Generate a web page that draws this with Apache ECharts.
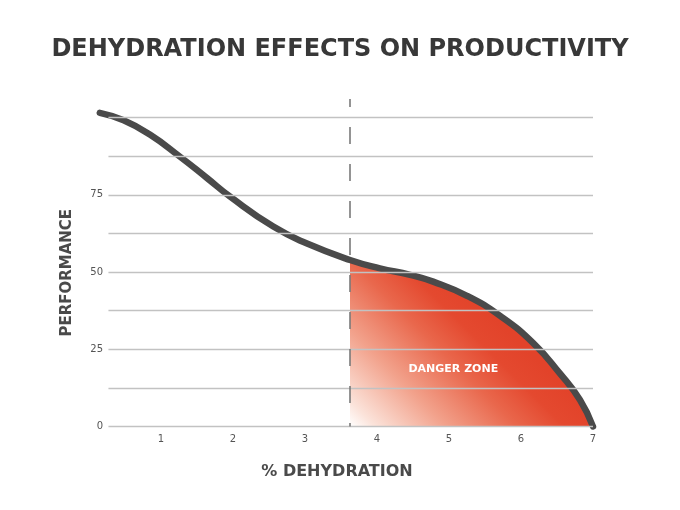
<!DOCTYPE html>
<html>
<head>
<meta charset="utf-8">
<script src="https://cdn.jsdelivr.net/npm/echarts@6/dist/echarts.min.js"></script>
<style>
  html, body { margin: 0; padding: 0; background: #fff; }
  #main { width: 680px; height: 510px; }
</style>
</head>
<body>
<div id="main"></div>
<script>
// curve: [% dehydration, performance]
var curveX = [0.15, 0.48, 0.85, 1.26, 1.64, 1.96, 2.56, 3.02, 3.625, 4.04, 4.46, 4.78, 5.25, 5.71, 6.17, 6.54, 6.82, 7.0];
var curveY = [101.5, 99.1, 94.4, 87.4, 80.4, 74.4, 64.7, 59.3, 53.9, 51.2, 49.1, 46.9, 42.3, 35.8, 27.0, 17.2, 8.6, 0];
var xTicks = [1, 2, 3, 4, 5, 6, 7];
var yTickLabels = [0, 25, 50, 75];
var gridLevels = [0, 12.5, 25, 37.5, 50, 62.5, 75, 87.5, 100];
var dangerStart = 3.625;
var yTop = 106;

(function(){
  var chartDom = document.getElementById('main');
  var myChart = echarts.init(chartDom);
  var option;

  var curve = curveX.map(function(x, i){ return [x, curveY[i]]; });
  // danger zone = part of the curve right of the dashed line
  var danger = curve.filter(function(p){ return p[0] >= dangerStart; });

  // horizontal rules, they start a little right of x=0
  var gridLines = gridLevels.map(function(v){
    return [{ coord: [0.27, v] }, { coord: [7, v] }];
  });

  var font = 'DejaVu Sans';

  option = {
    animation: false,
    title: {
      text: 'DEHYDRATION EFFECTS ON PRODUCTIVITY',
      left: 'center',
      top: 33,
      textStyle: {
        fontFamily: font,
        fontWeight: 'bold',
        fontSize: 24,
        color: '#383838'
      }
    },
    grid: {
      left: 89,
      right: 87,
      top: 99,
      bottom: 83.5
    },
    xAxis: {
      type: 'value',
      min: 0,
      max: 7,
      interval: 1,
      name: '% DEHYDRATION',
      nameLocation: 'middle',
      nameGap: 37,
      nameTextStyle: {
        fontFamily: font,
        fontWeight: 'bold',
        fontSize: 16,
        color: '#4a4a4a',
        padding: [0, 8, 0, 0]
      },
      axisLine: { show: false },
      axisTick: { show: false },
      splitLine: { show: false },
      axisLabel: {
        margin: 8,
        fontFamily: font,
        fontSize: 10,
        color: '#555',
        formatter: function(v){ return xTicks.indexOf(v) > -1 ? String(v) : ''; }
      }
    },
    yAxis: {
      type: 'value',
      min: 0,
      max: yTop,
      interval: 12.5,
      name: 'PERFORMANCE',
      nameLocation: 'middle',
      nameGap: 14,
      nameRotate: 90,
      nameTextStyle: {
        fontFamily: font,
        fontWeight: 'bold',
        fontSize: 15,
        color: '#4a4a4a',
        padding: [0, 20, 0, 0]
      },
      axisLine: { show: false },
      axisTick: { show: false },
      splitLine: { show: false },
      axisLabel: {
        margin: -14,
        align: 'right',
        fontFamily: font,
        fontSize: 10,
        color: '#555',
        formatter: function(v){ return yTickLabels.indexOf(v) > -1 ? String(v) : ''; }
      }
    },
    series: [
      {
        // gridlines only
        type: 'line',
        data: [],
        z: 1,
        silent: true,
        markLine: {
          silent: true,
          symbol: 'none',
          label: { show: false },
          lineStyle: { color: '#c2c2c2', type: 'solid', width: 1.3 },
          data: gridLines
        }
      },
      {
        // danger zone fill
        type: 'line',
        data: danger,
        z: 2,
        smooth: 0.5,
        showSymbol: false,
        silent: true,
        lineStyle: { width: 0 },
        areaStyle: {
          opacity: 1,
          color: new echarts.graphic.LinearGradient(0, 1, 0.52, 0.24, [
            { offset: 0, color: '#ffffff' },
            { offset: 0.1, color: '#fbe3da' },
            { offset: 0.38, color: '#f2a28c' },
            { offset: 0.66, color: '#e9674c' },
            { offset: 0.85, color: '#e4492f' },
            { offset: 1, color: '#e2432a' }
          ])
        },
        markPoint: {
          symbol: 'circle',
          symbolSize: 0,
          label: {
            show: true,
            position: 'inside',
            formatter: 'DANGER ZONE',
            fontFamily: font,
            fontWeight: 'bold',
            fontSize: 11,
            color: '#fff'
          },
          data: [{ coord: [5.06, 18.7] }]
        }
      },
      {
        // dashed divider
        type: 'line',
        data: [],
        z: 3,
        silent: true,
        markLine: {
          silent: true,
          symbol: 'none',
          label: { show: false },
          lineStyle: { color: '#7a7a7a', type: [17, 20], dashOffset: 9, width: 1.6 },
          data: [[{ coord: [dangerStart, yTop] }, { coord: [dangerStart, 0] }]]
        }
      },
      {
        // the curve
        type: 'line',
        data: curve,
        z: 4,
        smooth: 0.5,
        showSymbol: false,
        clip: false,
        silent: true,
        lineStyle: { color: '#4a4a4a', width: 6.5, cap: 'round' }
      }
    ]
  };

  option && myChart.setOption(option);
})();
</script>
</body>
</html>
